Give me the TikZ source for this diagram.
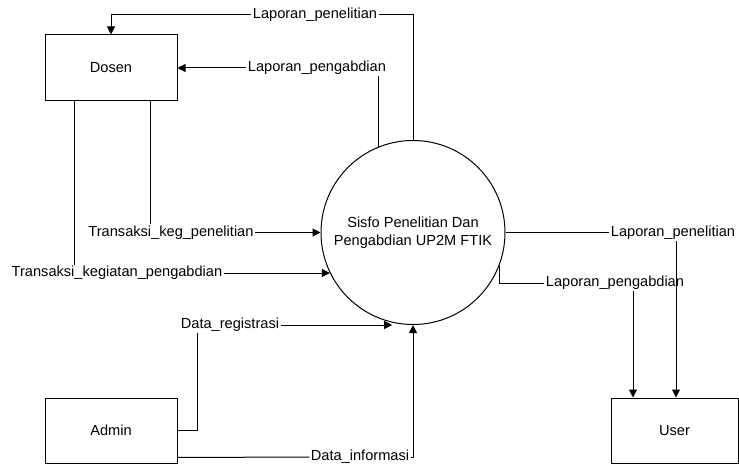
\documentclass[tikz,border=0pt]{standalone}
\usepackage{fontspec}
\setmainfont{Liberation Sans}
\usetikzlibrary{arrows.meta, positioning}

\begin{document}
\begin{tikzpicture}[x=1pt, y=-1pt, line width=1pt,
    every node/.style={font=\fontsize{14.6}{18.5}\selectfont},
    entity/.style={draw, rectangle, minimum width=132pt, minimum height=66pt},
    flowlbl/.style={inner sep=1pt},
    flow/.style={-{Triangle[length=8pt, width=8pt]}}]
    \useasboundingbox (0,0) rectangle (739,465);
    \node (dosen) [entity] at (111,68) {Dosen};
    \node (admin) [entity, minimum height=65pt] at (111,430.5) {Admin};
    \node (user) [entity, minimum width=127pt, minimum height=65pt] at (674.5,430.5) {User};
    \node (sys) [circle, draw, minimum size=184pt, inner sep=0pt, align=center] at (413,232.5) {Sisfo Penelitian Dan\\Pengabdian UP2M FTIK};
    \node (lp1) [flowlbl] at (315,15) {Laporan\_penelitian};
    \node (lpg1) [flowlbl] at (317,68) {Laporan\_pengabdian};
    \node (tkp) [flowlbl] at (171,232.5) {Transaksi\_keg\_penelitian};
    \node (tkg) [flowlbl] at (117,273) {Transaksi\_kegiatan\_pengabdian};
    \node (dreg) [flowlbl] at (230,325) {Data\_registrasi};
    \node (dinf) [flowlbl] at (360,457) {Data\_informasi};
    \node (lp2) [flowlbl] at (673,232.5) {Laporan\_penelitian};
    \node (lpg2) [flowlbl] at (615,283) {Laporan\_pengabdian};
    \draw (sys.north) |- (lp1.east);
    \draw[flow] (lp1.west) -| (dosen.north);
    \draw (sys.112) -- (sys.112 |- lpg1.south);
    \draw[flow] (lpg1.west) -- (dosen.east);
    \draw (dosen.south) ++(39,0) coordinate (d1) -- (d1 |- tkp.north);
    \draw[flow] (tkp.east) -- (sys.west);
    \draw (dosen.south) ++(-37,0) coordinate (d2) -- (d2 |- tkg.north);
    \draw[flow] (tkg.east) -- (tkg.east -| sys.206.5);
    \draw (admin.east) -- ++(20,0) coordinate (a1) -- (a1 |- dreg.south);
    \draw[flow] (dreg.east) -- (dreg.east -| sys.257);
    \draw ([yshift=6pt]admin.south east) -- (dinf.west);
    \draw[flow] (dinf.east) -| (sys.south);
    \draw (sys.east) -- (lp2.west);
    \draw[flow] (lp2.south) ++(3,0) coordinate (u2) -- (u2 |- user.north);
    \draw (sys.339) |- (lpg2.west);
    \draw[flow] (lpg2.south) ++(18,0) coordinate (u1) -- (u1 |- user.north);
\end{tikzpicture}
\end{document}
